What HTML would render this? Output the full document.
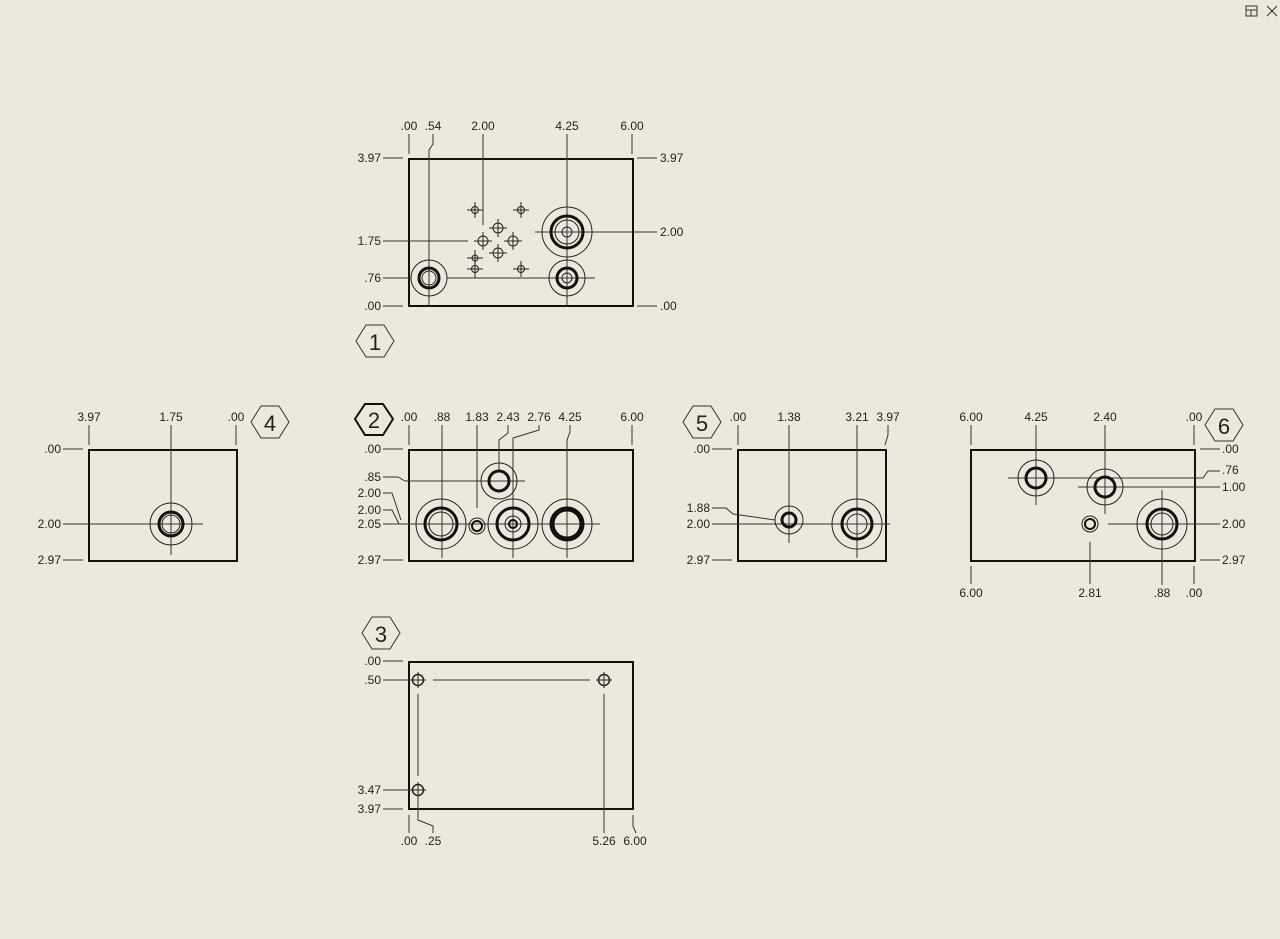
<!DOCTYPE html>
<html><head><meta charset="utf-8"><style>
html,body{margin:0;padding:0;background:#ece9dc;}
svg{display:block;}
text{font-family:"Liberation Sans",sans-serif;font-size:12px;fill:#222;}
.l{stroke:#333;stroke-width:1;fill:none;}
.b{stroke:#111;stroke-width:2;fill:none;}
.t{stroke:#111;stroke-width:3;fill:none;}
.c{stroke:#222;stroke-width:1;fill:none;}
</style></head><body>
<svg width="1280" height="939" viewBox="0 0 1280 939" xmlns="http://www.w3.org/2000/svg">
<rect width="1280" height="939" fill="#ece9dc"/>
<!-- top-right icons -->
<rect x="1246" y="6" width="11" height="10" class="l"/><line x1="1246" y1="10" x2="1257" y2="10" class="l"/><line x1="1251" y1="10" x2="1251" y2="16" class="l"/>
<path d="M1267 6 L1277 16 M1277 6 L1267 16" class="l"/>

<!-- VIEW 1 -->
<rect x="409" y="159" width="224" height="147" class="b"/>
<g text-anchor="middle">
<text x="409" y="130">.00</text><text x="433" y="130">.54</text><text x="483" y="130">2.00</text><text x="567" y="130">4.25</text><text x="632" y="130">6.00</text>
</g>
<g text-anchor="end"><text x="381" y="162">3.97</text><text x="381" y="245">1.75</text><text x="381" y="282">.76</text><text x="381" y="310">.00</text></g>
<text x="660" y="162">3.97</text><text x="660" y="236">2.00</text><text x="660" y="310">.00</text>
<path class="l" d="M409 134V154 M632 134V154 M483 134V225 M567 134V306 M433 134V144L429 150V306 M383 158H403 M383 241H468 M383 278H411 M383 306H403 M637 158H657 M535 232H657 M637 306H657 M447 278H595"/>
<circle cx="567" cy="232" r="25" class="c"/><circle cx="567" cy="232" r="16" class="t"/><circle cx="567" cy="232" r="12" class="c"/><circle cx="567" cy="232" r="5" class="c"/>
<circle cx="567" cy="278" r="18" class="c"/><circle cx="567" cy="278" r="10" class="t"/><circle cx="567" cy="278" r="5" class="c"/>
<circle cx="429" cy="278" r="18" class="c"/><circle cx="429" cy="278" r="10" class="t"/><circle cx="429" cy="278" r="7" class="c"/>
<g class="c">
<circle cx="475" cy="210" r="3.5"/><path d="M467 210H483M475 202V218"/>
<circle cx="521" cy="210" r="3.5"/><path d="M513 210H529M521 202V218"/>
<circle cx="498" cy="228" r="5"/><path d="M489 228H507M498 219V237"/>
<circle cx="483" cy="241" r="5"/><path d="M474 241H492M483 232V250"/>
<circle cx="513" cy="241" r="5"/><path d="M504 241H522M513 232V250"/>
<circle cx="498" cy="253" r="5"/><path d="M489 253H507M498 244V262"/>
<circle cx="475" cy="258" r="3"/><path d="M467 258H483M475 250V266"/>
<circle cx="475" cy="269" r="3.5"/><path d="M467 269H483M475 261V278"/>
<circle cx="521" cy="269" r="3.5"/><path d="M513 269H529M521 261V277"/>
</g>
<path d="M366 325H384L394 341L384 357H366L356 341Z" class="l"/><text x="375" y="350" text-anchor="middle" style="font-size:22px">1</text>

<!-- VIEW 4 -->
<rect x="89" y="450" width="148" height="111" class="b"/>
<g text-anchor="middle"><text x="89" y="421">3.97</text><text x="171" y="421">1.75</text><text x="236" y="421">.00</text></g>
<g text-anchor="end"><text x="61" y="453">.00</text><text x="61" y="528">2.00</text><text x="61" y="564">2.97</text></g>
<path class="l" d="M89 425V445 M236 425V445 M171 425V555 M63 449H83 M63 524H203 M63 560H83"/>
<circle cx="171" cy="524" r="21" class="c"/><circle cx="171" cy="524" r="12" class="t"/><circle cx="171" cy="524" r="9" class="c"/>
<path d="M261 406H279L289 422L279 438H261L251 422Z" class="l"/><text x="270" y="431" text-anchor="middle" style="font-size:22px">4</text>

<!-- VIEW 2 -->
<rect x="409" y="450" width="224" height="111" class="b"/>
<g text-anchor="middle"><text x="409" y="421">.00</text><text x="442" y="421">.88</text><text x="477" y="421">1.83</text><text x="508" y="421">2.43</text><text x="539" y="421">2.76</text><text x="570" y="421">4.25</text><text x="632" y="421">6.00</text></g>
<g text-anchor="end"><text x="381" y="453">.00</text><text x="381" y="481">.85</text><text x="381" y="497">2.00</text><text x="381" y="514">2.00</text><text x="381" y="528">2.05</text><text x="381" y="564">2.97</text></g>
<path class="l" d="M409 425V445 M632 425V445 M442 425V558 M477 425V508 M508 425V433L499 440V470 M539 425V430L513 438V558 M570 425V432L567 440V558 M383 449H403 M383 477H398L405 481H525 M383 493H392L401 520 M383 510H392L399 524 M383 524H600 M383 560H403"/>
<circle cx="441" cy="524" r="25" class="c"/><circle cx="441" cy="524" r="16" class="t"/><circle cx="441" cy="524" r="12" class="c"/>
<circle cx="477" cy="526" r="8" class="c"/><circle cx="477" cy="526" r="5" class="b"/>
<circle cx="513" cy="524" r="25" class="c"/><circle cx="513" cy="524" r="16" class="t"/><circle cx="513" cy="524" r="8" class="c"/><circle cx="513" cy="524" r="4" class="b"/>
<circle cx="567" cy="524" r="25" class="c"/><circle cx="567" cy="524" r="15" style="stroke:#111;stroke-width:5;fill:none"/>
<circle cx="499" cy="481" r="18" class="c"/><circle cx="499" cy="481" r="10" class="t"/>
<path d="M365 404H383L393 419L383 435H365L355 419Z" style="stroke:#111;stroke-width:2;fill:none"/><text x="374" y="428" text-anchor="middle" style="font-size:22px">2</text>

<!-- VIEW 5 -->
<rect x="738" y="450" width="148" height="111" class="b"/>
<g text-anchor="middle"><text x="738" y="421">.00</text><text x="789" y="421">1.38</text><text x="857" y="421">3.21</text><text x="888" y="421">3.97</text></g>
<g text-anchor="end"><text x="710" y="453">.00</text><text x="710" y="512">1.88</text><text x="710" y="528">2.00</text><text x="710" y="564">2.97</text></g>
<path class="l" d="M738 425V445 M888 425V435L885 445 M789 425V543 M857 425V558 M712 449H732 M712 508H726L733 514L775 520 M712 524H890 M712 560H732"/>
<circle cx="789" cy="520" r="14" class="c"/><circle cx="789" cy="520" r="7" class="t"/>
<circle cx="857" cy="524" r="25" class="c"/><circle cx="857" cy="524" r="15" class="t"/><circle cx="857" cy="524" r="10" class="c"/>
<path d="M693 406H711L721 422L711 438H693L683 422Z" class="l"/><text x="702" y="431" text-anchor="middle" style="font-size:22px">5</text>

<!-- VIEW 6 -->
<rect x="971" y="450" width="224" height="111" class="b"/>
<g text-anchor="middle"><text x="971" y="421">6.00</text><text x="1036" y="421">4.25</text><text x="1105" y="421">2.40</text><text x="1194" y="421">.00</text>
<text x="971" y="597">6.00</text><text x="1090" y="597">2.81</text><text x="1162" y="597">.88</text><text x="1194" y="597">.00</text></g>
<text x="1222" y="453">.00</text><text x="1222" y="474">.76</text><text x="1222" y="491">1.00</text><text x="1222" y="528">2.00</text><text x="1222" y="564">2.97</text>
<path class="l" d="M971 425V445 M1194 425V445 M971 566V584 M1194 566V584 M1090 542V584 M1036 425V505 M1105 425V514 M1162 490V585 M1200 449H1220 M1008 478H1203L1208 471H1220 M1078 487H1220 M1108 524H1220 M1200 560H1220"/>
<circle cx="1036" cy="478" r="18" class="c"/><circle cx="1036" cy="478" r="10" class="t"/>
<circle cx="1105" cy="487" r="18" class="c"/><circle cx="1105" cy="487" r="10" class="t"/>
<circle cx="1090" cy="524" r="8" class="c"/><circle cx="1090" cy="524" r="5" class="b"/>
<circle cx="1162" cy="524" r="25" class="c"/><circle cx="1162" cy="524" r="15" class="t"/><circle cx="1162" cy="524" r="11" class="c"/>
<path d="M1215 409H1233L1243 425L1233 441H1215L1205 425Z" class="l"/><text x="1224" y="434" text-anchor="middle" style="font-size:22px">6</text>

<!-- VIEW 3 -->
<rect x="409" y="662" width="224" height="147" class="b"/>
<g text-anchor="end"><text x="381" y="665">.00</text><text x="381" y="684">.50</text><text x="381" y="794">3.47</text><text x="381" y="813">3.97</text></g>
<g text-anchor="middle"><text x="409" y="845">.00</text><text x="433" y="845">.25</text><text x="604" y="845">5.26</text><text x="635" y="845">6.00</text></g>
<path class="l" d="M383 661H403 M383 680H411 M383 790H411 M383 809H403 M409 815V833 M418 797V820L433 826V833 M604 694V833 M633 815V826L636 833 M433 680H590 M418 694V776"/>
<g class="c">
<circle cx="418" cy="680" r="5.5" style="stroke-width:1.5"/><path d="M410 680H426M418 672V688"/>
<circle cx="604" cy="680" r="5.5" style="stroke-width:1.5"/><path d="M596 680H612M604 672V688"/>
<circle cx="418" cy="790" r="5.5" style="stroke-width:1.5"/><path d="M410 790H426M418 782V798"/>
</g>
<path d="M372 617H390L400 633L390 649H372L362 633Z" class="l"/><text x="381" y="642" text-anchor="middle" style="font-size:22px">3</text>
</svg>
</body></html>
